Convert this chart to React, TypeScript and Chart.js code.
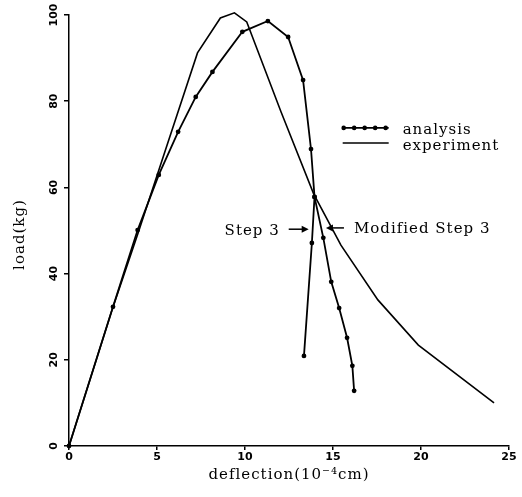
import React, { useEffect, useRef } from "react";
import { Chart, registerables } from "chart.js";

Chart.register(...registerables);

// analysis: loading branch up to the split, then the "Step 3" branch
const analysisX = [0, 2.5, 3.9, 5.1, 6.2, 7.2, 8.15, 9.85, 11.3, 12.45, 13.3, 13.75, 13.95, 13.8, 13.35];
const analysisY = [0, 32.3, 50.1, 62.9, 72.9, 81.0, 86.8, 96.1, 98.6, 94.9, 84.9, 68.9, 57.8, 47.1, 20.9];
// analysis: "Modified Step 3" branch from the split
const modifiedX = [13.95, 14.45, 14.9, 15.35, 15.8, 16.1, 16.2];
const modifiedY = [57.8, 48.3, 38.1, 32.0, 25.1, 18.6, 12.8];
// experiment
const experimentX = [0, 2.45, 3.95, 4.6, 7.3, 8.6, 9.4, 10.1, 12.05, 13.9, 15.45, 17.55, 19.85, 24.15];
const experimentY = [0, 31.6, 49.7, 57.8, 91.2, 99.3, 100.5, 98.4, 77.5, 58.5, 46.6, 33.9, 23.4, 10.0];

const xTicks = [0, 5, 10, 15, 20, 25];
const yTicks = [0, 20, 40, 60, 80, 100];

const seriesNames = ["analysis", "experiment"];
const xTitle = "deflection(10⁻⁴cm)";
const yTitle = "load(kg)";
const stepLabel = "Step 3";
const modifiedLabel = "Modified Step 3";
const stepArrowTip = [13.62, 50.3];
const modifiedArrowTip = [14.6, 50.6];
const legendAnchor = [15.55, 73.8];

const pts = (xs: number[], ys: number[]) => xs.map((x, i) => ({ x, y: ys[i] }));

const SERIF = '15px "DejaVu Serif"';

function arrow(ctx: CanvasRenderingContext2D, x0: number, x1: number, y: number) {
  const dir = Math.sign(x1 - x0);
  ctx.beginPath();
  ctx.moveTo(x0, y);
  ctx.lineTo(x1 - dir * 5, y);
  ctx.lineWidth = 1.5;
  ctx.stroke();
  ctx.beginPath();
  ctx.moveTo(x1, y);
  ctx.lineTo(x1 - dir * 7, y - 3.5);
  ctx.lineTo(x1 - dir * 7, y + 3.5);
  ctx.closePath();
  ctx.fill();
}

const overlay = {
  id: "overlay",
  afterDraw(chart: any) {
    const { ctx, chartArea, scales } = chart;
    const xs = scales.x;
    const ys = scales.y;
    ctx.save();
    ctx.fillStyle = "#000";
    ctx.strokeStyle = "#000";

    // rotated y tick labels
    ctx.font = 'bold 11px "DejaVu Sans"';
    ctx.textAlign = "center";
    ctx.textBaseline = "middle";
    ys.ticks.forEach((t: any) => {
      const py = ys.getPixelForValue(t.value);
      ctx.save();
      ctx.translate(chartArea.left - 15, py);
      ctx.rotate(-Math.PI / 2);
      ctx.fillText(String(t.value), 0, 0);
      ctx.restore();
    });

    // axis titles
    ctx.font = SERIF;
    (ctx as any).letterSpacing = "1px";
    ctx.fillText(xTitle, (chartArea.left + chartArea.right) / 2, chartArea.bottom + 29);
    ctx.save();
    ctx.translate(20, (chartArea.top + chartArea.bottom) / 2 + 4);
    ctx.rotate(-Math.PI / 2);
    ctx.fillText(yTitle, 0, 0);
    ctx.restore();

    // legend
    const lx = xs.getPixelForValue(legendAnchor[0]);
    const ly = ys.getPixelForValue(legendAnchor[1]);
    ctx.lineWidth = 1.8;
    ctx.beginPath();
    ctx.moveTo(lx, ly);
    ctx.lineTo(lx + 46, ly);
    ctx.stroke();
    for (let i = 0; i < 5; i++) {
      ctx.beginPath();
      ctx.arc(lx + 1 + i * 10.5, ly, 2.3, 0, Math.PI * 2);
      ctx.fill();
    }
    ctx.lineWidth = 1.5;
    ctx.beginPath();
    ctx.moveTo(lx, ly + 15);
    ctx.lineTo(lx + 46, ly + 15);
    ctx.stroke();
    ctx.textAlign = "left";
    ctx.fillText(seriesNames[0], lx + 60, ly + 2);
    ctx.fillText(seriesNames[1], lx + 60, ly + 18);

    // step annotations
    const sx = xs.getPixelForValue(stepArrowTip[0]);
    const sy = ys.getPixelForValue(stepArrowTip[1]);
    arrow(ctx, sx - 20, sx, sy);
    ctx.textAlign = "right";
    ctx.fillText(stepLabel, sx - 29, sy + 2);
    const mx = xs.getPixelForValue(modifiedArrowTip[0]);
    const my = ys.getPixelForValue(modifiedArrowTip[1]);
    arrow(ctx, mx + 18, mx, my);
    ctx.textAlign = "left";
    ctx.fillText(modifiedLabel, mx + 28, my + 1);

    ctx.restore();
  },
};

export default function App() {
  const ref = useRef<HTMLCanvasElement | null>(null);
  useEffect(() => {
    if (!ref.current) return;
    const chart = new Chart(ref.current, {
      type: "scatter",
      data: {
        datasets: [
          {
            label: seriesNames[0],
            data: pts(analysisX, analysisY),
            showLine: true,
            borderColor: "#000",
            backgroundColor: "#000",
            borderWidth: 1.8,
            pointRadius: 2.4,
            pointHoverRadius: 2.4,
            pointBorderWidth: 0,
            clip: false,
          },
          {
            label: seriesNames[0] + " (modified)",
            data: pts(modifiedX, modifiedY),
            showLine: true,
            borderColor: "#000",
            backgroundColor: "#000",
            borderWidth: 1.8,
            pointRadius: 2.4,
            pointHoverRadius: 2.4,
            pointBorderWidth: 0,
            clip: false,
          },
          {
            label: seriesNames[1],
            data: pts(experimentX, experimentY),
            showLine: true,
            borderColor: "#000",
            backgroundColor: "#000",
            borderWidth: 1.6,
            pointRadius: 0,
            pointHoverRadius: 0,
            clip: false,
          },
        ],
      },
      options: {
        responsive: false,
        animation: false,
        devicePixelRatio: 1,
        layout: { padding: { left: 0, right: 13, top: 15, bottom: 0 } },
        plugins: { legend: { display: false }, tooltip: { enabled: false } },
        scales: {
          x: {
            type: "linear",
            min: xTicks[0],
            max: xTicks[xTicks.length - 1],
            afterBuildTicks: (s: any) => {
              s.ticks = xTicks.map((v) => ({ value: v }));
            },
            ticks: {
              color: "#000",
              font: { family: "DejaVu Sans", size: 11, weight: "bold" },
              padding: 1,
              maxRotation: 0,
            },
            grid: { drawOnChartArea: false, drawTicks: true, tickLength: 4, color: "#000", lineWidth: 1.5 },
            border: { display: true, color: "#000", width: 1.5 },
            afterFit: (s: any) => {
              s.height = 51;
            },
          },
          y: {
            type: "linear",
            min: yTicks[0],
            max: yTicks[yTicks.length - 1],
            afterBuildTicks: (s: any) => {
              s.ticks = yTicks.map((v) => ({ value: v }));
            },
            ticks: { display: false },
            grid: { drawOnChartArea: false, drawTicks: true, tickLength: 5, color: "#000", lineWidth: 1.5 },
            border: { display: true, color: "#000", width: 1.5 },
            afterFit: (s: any) => {
              s.width = 69;
            },
          },
        },
      },
      plugins: [overlay],
    });
    return () => chart.destroy();
  }, []);
  return (
    <canvas
      ref={ref}
      width={522}
      height={497}
      style={{ position: "absolute", left: 0, top: 0, display: "block", width: 522, height: 497, background: "#fff" }}
    />
  );
}
